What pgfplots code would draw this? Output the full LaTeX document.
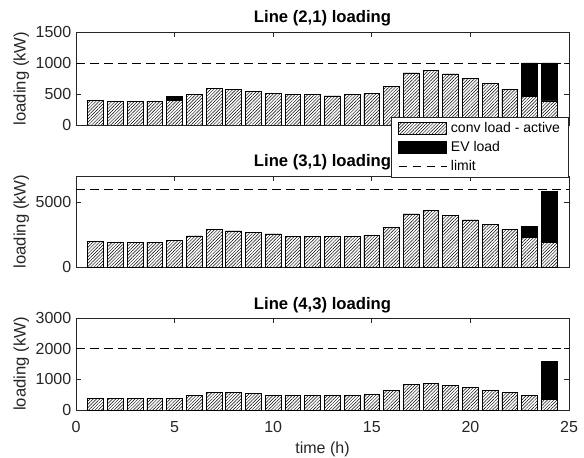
\documentclass[border=0pt]{standalone}
\usepackage{fontspec}
\setmainfont{Liberation Sans}
\usepackage{pgfplots}
\pgfplotsset{compat=1.18}
\usepackage{pgfplotstable}
\usetikzlibrary{patterns.meta}
\definecolor{mgray}{RGB}{38,38,38}

% hourly loading, kW: conventional (active) and EV part
\pgfplotstableread{
h conv ev
1 400 0
2 385 0
3 385 0
4 385 0
5 395 62
6 495 0
7 585 0
8 569 0
9 537 0
10 505 0
11 489 0
12 489 0
13 468 0
14 489 0
15 505 0
16 622 0
17 840 0
18 878 0
19 824 0
20 745 0
21 670 0
22 580 0
23 463 537
24 388 612
}\lineA

\pgfplotstableread{
h conv ev
1 1950 0
2 1880 0
3 1880 0
4 1880 0
5 2030 0
6 2390 0
7 2890 0
8 2770 0
9 2670 0
10 2540 0
11 2370 0
12 2360 0
13 2360 0
14 2360 0
15 2440 0
16 3030 0
17 4080 0
18 4330 0
19 3970 0
20 3620 0
21 3280 0
22 2900 0
23 2280 820
24 1920 3880
}\lineB

\pgfplotstableread{
h conv ev
1 370 0
2 370 0
3 370 0
4 370 0
5 370 0
6 465 0
7 562 0
8 562 0
9 530 0
10 486 0
11 465 0
12 465 0
13 465 0
14 465 0
15 497 0
16 627 0
17 843 0
18 876 0
19 800 0
20 735 0
21 649 0
22 562 0
23 465 0
24 357 1221
}\lineC

\pgfplotsset{
  loadax/.style={
    scale only axis, width=369.75pt,
    xmin=0, xmax=25, xtick={0,5,...,25},
    ymin=0,
    tick align=inside, major tick length=3.5pt,
    axis line style={mgray, line width=0.5pt},
    tick style={mgray, line width=0.5pt},
    ticklabel style={font=\fontsize{12}{14}\selectfont, color=mgray},
    xticklabel style={anchor=base, yshift=-17pt},
    /pgf/number format/assume math mode=true,
    /pgf/number format/1000 sep={},
    ylabel={loading (kW)},
    ylabel style={at={(axis description cs:0,0.5)}, anchor=center, yshift=41pt,
      font=\fontsize{12.5}{14}\selectfont, color=mgray},
    title style={at={(axis description cs:0.5,1)}, anchor=base, yshift=0.75pt,
      font=\fontsize{12.5}{14}\selectfont\bfseries},
  },
  evbar/.style={ybar, bar width=0.8, bar shift=0pt, fill=black, draw=black,
    line width=0.6pt, forget plot},
  convbar/.style={ybar, bar width=0.8, bar shift=0pt, fill=white, draw=black,
    line width=0.6pt, forget plot,
    postaction={pattern={Lines[angle=45,distance=1.7pt,line width=0.35pt]},pattern color=black}},
  limitline/.style={sharp plot, black, line width=0.6pt, dash pattern=on 6.5pt off 4pt, forget plot},
}

\begin{document}
\begin{tikzpicture}

\begin{axis}[loadax, at={(57pt,142.5pt)}, anchor=south west, height=68.25pt,
  ymax=7000, ytick={0,5000}, xticklabels={},
  title={Line (3,1) loading}]
\addplot[evbar] table[x=h, y expr=\thisrow{conv}+\thisrow{ev}] {\lineB};
\addplot[convbar] table[x=h, y=conv] {\lineB};
\addplot[limitline] coordinates {(0,6000) (25,6000)};
\end{axis}

\begin{axis}[loadax, at={(57pt,35.25pt)}, anchor=south west, height=69pt,
  ymax=3000, ytick={0,1000,2000,3000},
  xlabel={time (h)},
  xlabel style={at={(axis description cs:0.5,0)}, anchor=base, yshift=-32.5pt,
    font=\fontsize{12}{14}\selectfont, color=mgray},
  title={Line (4,3) loading}]
\addplot[evbar] table[x=h, y expr=\thisrow{conv}+\thisrow{ev}] {\lineC};
\addplot[convbar] table[x=h, y=conv] {\lineC};
\addplot[limitline] coordinates {(0,2000) (25,2000)};
\end{axis}

\begin{axis}[loadax, at={(57pt,249pt)}, anchor=south west, height=69.75pt,
  ymax=1500, ytick={0,500,1000,1500}, xticklabels={},
  title={Line (2,1) loading},
  legend cell align=left,
  legend style={at={(1,0.086)}, anchor=north east, draw=mgray, fill=white,
    line width=0.6pt, font=\fontsize{10.5}{12}\selectfont,
    inner xsep=5pt, inner ysep=2.5pt, row sep=2pt, column sep=1.5pt,
    nodes={inner sep=1.5pt}}]
\addplot[evbar] table[x=h, y expr=\thisrow{conv}+\thisrow{ev}] {\lineA};
\addplot[convbar] table[x=h, y=conv] {\lineA};
\addplot[limitline] coordinates {(0,1000) (25,1000)};
\addlegendimage{legend image code/.code={\draw[draw=black, line width=0.6pt, fill=white,
  postaction={pattern={Lines[angle=45,distance=1.7pt,line width=0.35pt]},pattern color=black}]
  (0pt,-4.5pt) rectangle (36pt,4.5pt);}}
\addlegendentry{conv load - active}
\addlegendimage{legend image code/.code={\fill[black] (0pt,-4.5pt) rectangle (36pt,4.5pt);}}
\addlegendentry{EV load}
\addlegendimage{legend image code/.code={\draw[black, line width=0.6pt, dash pattern=on 6.5pt off 4pt] (0pt,0pt) -- (36pt,0pt);}}
\addlegendentry{limit}
\end{axis}

\pgfresetboundingbox
\path[use as bounding box] (0,0) rectangle (438pt,342.75pt);
\end{tikzpicture}
\end{document}
